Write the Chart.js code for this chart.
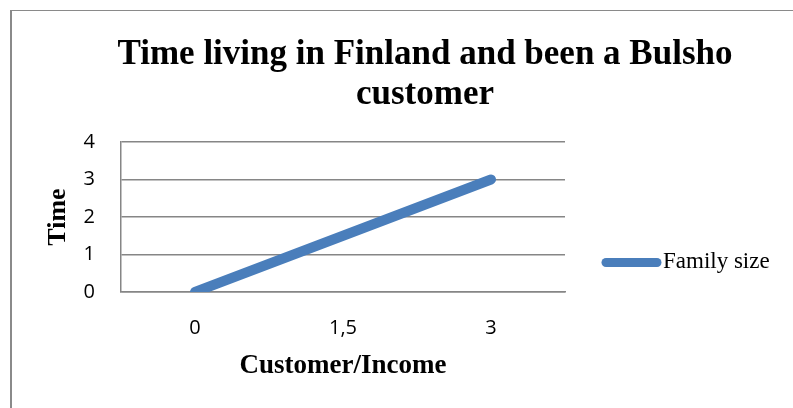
<!DOCTYPE html>
<html>
<head>
<meta charset="utf-8">
<script src="https://cdn.jsdelivr.net/npm/chart.js@4"></script>
<style>
    html, body { margin: 0; padding: 0; background: #ffffff; overflow: hidden; width: 793px; height: 408px; }
    #frame {
        position: absolute; left: 10px; top: 10px;
        width: 826px; height: 410px;
        border-top: 1px solid #8a8a8a; border-left: 2px solid #8a8a8a;
    }
    #chartBox { position: absolute; left: 0; top: 0; width: 826px; height: 397px; }
</style>
</head>
<body>
<div id="frame"><div id="chartBox"><canvas id="timeChart"></canvas></div></div>
<script>
const categories = ['0', '1,5', '3'];
const familySize = [0, 1.5, 3];
const seriesName = 'Family size';
const titleLines = ['Time living in Finland and been a Bulsho', 'customer'];
const yTitle = 'Time';
const xTitle = 'Customer/Income';

const lineColor = '#4a7ebb';
const gridColor = '#868686';

// Legend on the right, drawn from the dataset's own style
const sideLegend = {
    id: 'sideLegend',
    afterDraw(chart) {
        const ctx = chart.ctx;
        const ds = chart.data.datasets[0];
        ctx.save();
        ctx.strokeStyle = ds.borderColor;
        ctx.lineWidth = 9;
        ctx.lineCap = 'round';
        ctx.beginPath();
        ctx.moveTo(594, 251.5);
        ctx.lineTo(645, 251.5);
        ctx.stroke();
        ctx.fillStyle = '#000000';
        ctx.font = '23px "Liberation Serif", serif';
        ctx.textBaseline = 'alphabetic';
        ctx.textAlign = 'left';
        ctx.fillText(ds.label, 651, 257);
        ctx.restore();
    }
};

const ctx = document.getElementById('timeChart').getContext('2d');
new Chart(ctx, {
    type: 'line',
    data: {
        labels: categories,
        datasets: [{
            label: seriesName,
            data: familySize,
            borderColor: lineColor,
            backgroundColor: lineColor,
            borderWidth: 10,
            borderCapStyle: 'round',
            borderJoinStyle: 'round',
            pointRadius: 0,
            tension: 0
        }]
    },
    options: {
        responsive: true,
        maintainAspectRatio: false,
        animation: false,
        layout: { padding: 0 },
        plugins: {
            legend: { display: false },
            tooltip: { enabled: false },
            title: {
                display: true,
                text: titleLines,
                color: '#000000',
                font: { family: '"Liberation Serif", serif', size: 35, weight: 'bold', lineHeight: 40 / 35 },
                padding: { top: 24, bottom: 27 }
            }
        },
        scales: {
            x: {
                offset: true,
                grid: { display: false },
                border: { display: true, color: gridColor, width: 1.5 },
                ticks: {
                    color: '#000000',
                    padding: 16,
                    font: { family: '"Open Sans", sans-serif', size: 20 }
                },
                title: {
                    display: true,
                    text: xTitle,
                    color: '#000000',
                    font: { family: '"Liberation Serif", serif', size: 27, weight: 'bold' },
                    padding: { top: 0, bottom: 26 }
                },
                afterFit(scale) { scale.height = 116; }
            },
            y: {
                min: 0,
                max: 4,
                ticks: {
                    stepSize: 1,
                    color: '#000000',
                    padding: 26,
                    font: { family: '"Open Sans", sans-serif', size: 20 }
                },
                grid: { color: gridColor, lineWidth: 1.5, drawTicks: false },
                border: { display: true, color: gridColor, width: 1.5 },
                title: {
                    display: true,
                    text: yTitle,
                    color: '#000000',
                    font: { family: '"Liberation Serif", serif', size: 26, weight: 'bold' },
                    padding: { top: 31, bottom: 0 }
                },
                afterFit(scale) { scale.width = 109; }
            },
            // empty right-hand axis: keeps room for the legend without moving the title
            legendSpace: {
                type: 'linear',
                position: 'right',
                display: true,
                ticks: { display: false },
                grid: { display: false },
                border: { display: false },
                afterFit(scale) { scale.width = 273; }
            }
        }
    },
    plugins: [sideLegend]
});
</script>
</body>
</html>
